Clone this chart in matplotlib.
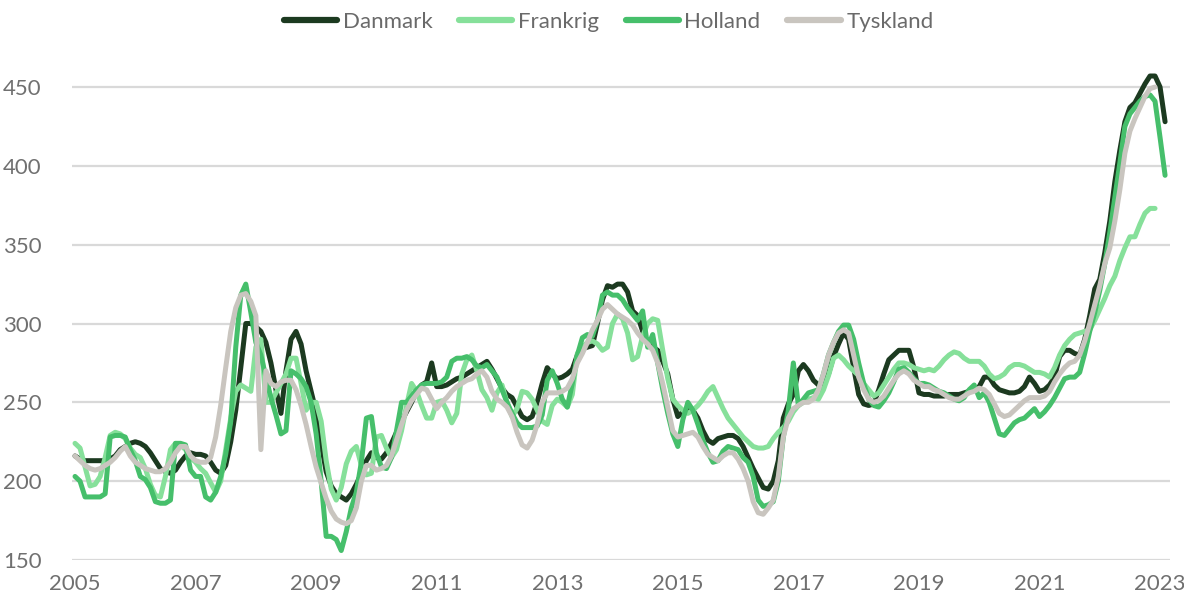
import numpy as np
import matplotlib
matplotlib.use("Agg")
import matplotlib.pyplot as plt

plt.rcParams['font.family'] = ['Lato', 'DejaVu Sans']

start_year = 2005
series_names = ["Danmark", "Frankrig", "Holland", "Tyskland"]
colors = ["#1c3a20", "#86e09a", "#46bf6b", "#c9c5bf"]

# monthly values from Jan 2005
danmark = [
    216,214,213,213,213,213,213,214,216,220,222,224,
    225,224,222,218,213,208,206,205,207,212,216,218,
    217,217,216,212,207,205,210,225,245,272,300,300,
    298,295,288,275,258,243,270,290,295,287,270,257,
    244,224,206,197,192,190,188,192,198,205,213,218,
    215,214,218,224,231,238,244,250,257,261,263,275,
    260,260,261,263,265,266,268,270,272,274,276,271,
    265,259,255,253,247,241,239,241,250,262,272,268,
    265,266,268,271,280,284,285,286,300,315,324,323,
    325,325,320,308,305,295,288,285,283,276,268,252,
    241,244,245,245,240,232,226,224,227,228,229,229,
    227,222,215,208,202,196,195,200,213,240,249,255,
    270,274,270,264,261,262,268,279,287,294,290,272,
    255,249,248,249,258,268,277,280,283,283,283,272,
    256,255,255,254,254,254,255,255,255,256,257,258,
    260,266,266,261,258,257,256,256,257,260,266,262,
    257,258,261,266,279,283,283,281,280,290,305,322,
    328,345,365,390,410,428,437,440,446,452,457,457,
    450,428]

frankrig = [
    224,221,209,197,198,203,215,229,231,230,227,221,
    217,215,208,198,191,190,203,220,224,223,220,215,
    212,208,205,199,193,200,220,240,257,261,259,257,
    285,290,250,250,256,262,268,278,278,262,245,250,
    250,238,213,195,188,196,211,219,222,210,204,205,
    228,229,221,215,220,232,248,262,257,248,240,240,
    250,251,245,237,243,268,277,280,270,258,253,245,
    256,261,250,241,246,257,256,252,245,238,236,248,
    252,250,247,255,281,285,288,289,287,283,285,300,
    306,303,294,277,279,292,300,303,302,283,265,252,
    248,245,243,245,248,252,257,260,253,246,240,236,
    232,228,225,222,221,221,222,227,231,234,238,244,
    248,250,252,253,252,258,267,278,280,277,273,270,
    267,262,258,254,256,261,266,271,275,275,274,272,
    271,270,271,270,273,277,280,282,281,278,276,276,
    276,273,268,265,266,268,272,274,274,273,271,269,
    269,268,266,272,280,286,290,293,294,295,296,302,
    309,316,324,330,340,348,355,355,363,370,373,373]

holland = [
    203,200,190,190,190,190,192,228,229,229,228,220,
    213,203,201,196,187,186,186,188,224,224,223,207,
    203,203,190,188,193,203,217,238,285,318,325,307,
    288,280,266,253,242,230,232,270,268,265,260,250,
    230,200,165,165,163,156,168,183,193,212,240,241,
    218,209,208,215,232,250,250,254,258,261,262,262,
    262,263,266,276,278,278,279,277,273,272,274,270,
    266,258,250,243,237,234,234,234,235,242,264,270,
    262,252,247,262,280,291,293,292,302,318,320,318,
    318,315,310,306,302,308,285,293,275,258,243,230,
    222,239,250,245,236,226,218,212,213,219,222,221,
    220,215,212,203,188,184,185,187,200,228,245,275,
    248,252,256,257,258,268,280,288,295,299,299,290,
    275,262,252,248,247,251,256,263,271,272,269,265,
    262,262,261,259,257,256,254,252,251,253,258,261,
    253,256,250,240,230,229,233,237,239,240,243,246,
    241,244,248,253,259,265,266,266,269,281,295,307,
    321,338,358,380,402,425,433,437,441,444,445,441,
    418,394]

tyskland = [
    216,213,210,208,207,208,210,212,215,219,222,216,
    212,210,208,207,206,206,208,212,218,222,222,216,
    213,212,212,215,228,248,272,295,310,318,319,314,
    305,220,270,262,260,263,264,264,258,248,236,222,
    209,199,189,181,176,174,173,175,183,200,210,210,
    207,208,210,216,226,236,245,251,255,259,258,252,
    246,250,253,257,260,262,264,265,268,270,266,257,
    252,250,247,241,231,223,221,226,236,250,256,256,
    256,257,259,265,275,281,288,296,302,309,312,309,
    306,304,302,299,294,290,287,283,275,262,247,232,
    228,229,230,231,228,222,217,215,213,216,218,218,
    214,208,200,187,180,179,183,188,203,228,240,246,
    248,250,250,252,258,268,280,288,294,296,294,280,
    266,258,252,250,251,254,259,264,268,270,268,264,
    262,260,260,258,257,255,253,252,252,254,256,257,
    259,258,255,249,243,241,242,245,248,251,253,253,
    253,254,257,263,268,272,275,276,280,289,300,312,
    324,338,348,365,385,408,422,430,437,444,449,450]

yticks = [150, 200, 250, 300, 350, 400, 450]
xticks = [2005, 2007, 2009, 2011, 2013, 2015, 2017, 2019, 2021, 2023]

W, H = 1184, 598
fig = plt.figure(figsize=(W / 100, H / 100), dpi=100)
ax_left, ax_right = 72, 1170
ax_bottom, ax_top = 560, 55.5
ax = fig.add_axes([ax_left / W, 1 - ax_bottom / H,
                   (ax_right - ax_left) / W, (ax_bottom - ax_top) / H])

all_series = [danmark, frankrig, holland, tyskland]
lines = []
for name, vals, col in zip(series_names, all_series, colors):
    t = start_year + np.arange(len(vals)) / 12.0
    ln, = ax.plot(t, vals, color=col, lw=3.6, label=name,
                  solid_joinstyle='round', solid_capstyle='round', zorder=3)
    lines.append(ln)

ax.set_xlim(2004.95, 2004.95 + (ax_right - ax_left) / 60.28)
ax.set_ylim(150, 470)
ax.set_yticks(yticks)
ax.set_xticks(xticks)
ax.grid(axis='y', color='#d9d9d9', lw=1.6, zorder=0)
ax.grid(axis='x', visible=False)
for s in ax.spines.values():
    s.set_visible(False)
ax.tick_params(axis='both', length=0, labelsize=16, labelcolor='#707070')
ax.tick_params(axis='y', pad=22)
ax.tick_params(axis='x', pad=10)
for lab in ax.get_yticklabels():
    lab.set_horizontalalignment('right')

leg = fig.legend(handles=lines, loc='center', bbox_to_anchor=(0.514, 0.963),
                 ncol=4, frameon=False, fontsize=16, handlelength=2.4,
                 handletextpad=0.25, columnspacing=1.2)
for txt in leg.get_texts():
    txt.set_color('#6a6a6a')
for lh in leg.get_lines():
    lh.set_linewidth(4.5)
    lh.set_solid_capstyle('round')

fig.savefig("out.png", dpi=100)
